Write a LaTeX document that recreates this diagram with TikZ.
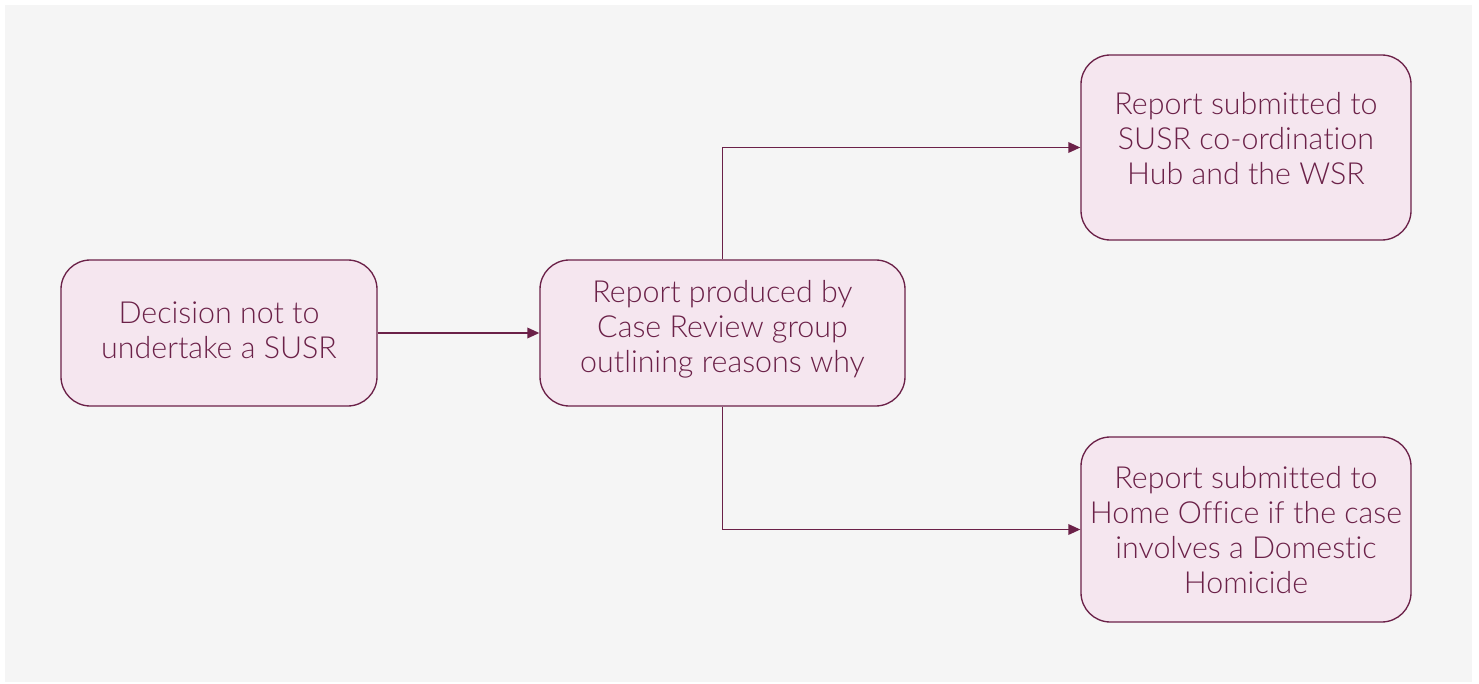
\documentclass[tikz,border=0pt]{standalone}
\usepackage{fontspec}
\setmainfont{Lato}[UprightFont=* Light,Ligatures=NoCommon]
\usepackage{tikz}
\usetikzlibrary{arrows.meta}
\definecolor{plum}{HTML}{6B2148}
\definecolor{plumfill}{HTML}{F5E6EF}
\definecolor{bggray}{HTML}{F5F5F5}
% text lines, with extra room below to lift them in the box
\newcommand{\stagetext}[2]{\raisebox{0pt}[\height][\dimexpr\depth+#1\relax]{\begin{tabular}{@{}c@{}}#2\end{tabular}}}
\begin{document}
\begin{tikzpicture}[x=0.75pt,y=-0.75pt]
\tikzstyle{stage}=[draw=plum,fill=plumfill,line width=1pt,rounded corners=22pt,
  text=plum,inner sep=0pt,font=\fontsize{22.8}{26.25}\selectfont]
\tikzstyle{flow}=[draw=plum,line width=1pt,-{Triangle[length=9pt,width=8pt]}]
\useasboundingbox (0,0) rectangle (1479,684);
\fill [white] (0,0) rectangle (1479,684);
\fill [bggray] (5,5) rectangle (1472,682);
\node [stage,minimum width=237pt,minimum height=109.5pt] (decision) at (219,333) {\stagetext{-1.5pt}{Decision not to\\undertake a SUSR}};
\node [stage,minimum width=273.75pt,minimum height=109.5pt] (report) at (722.5,333) {\stagetext{3pt}{Report produced by\\Case Review group\\outlining reasons why}};
\node [stage,minimum width=247.5pt,minimum height=138.75pt] (hub) at (1246,147.5) {\stagetext{7.5pt}{Report submitted to\\SUSR co-ordination\\Hub and the WSR}};
\node [stage,minimum width=247.5pt,minimum height=138.75pt] (homeoffice) at (1246,529.5) {\stagetext{-6pt}{Report submitted to\\Home Office if the case\\involves a Domestic\\Homicide}};
\draw [flow] (decision) -- (report);
\draw [flow] (report.north) |- (hub.west);
\draw [flow] (report.south) |- (homeoffice.west);
\end{tikzpicture}
\end{document}
